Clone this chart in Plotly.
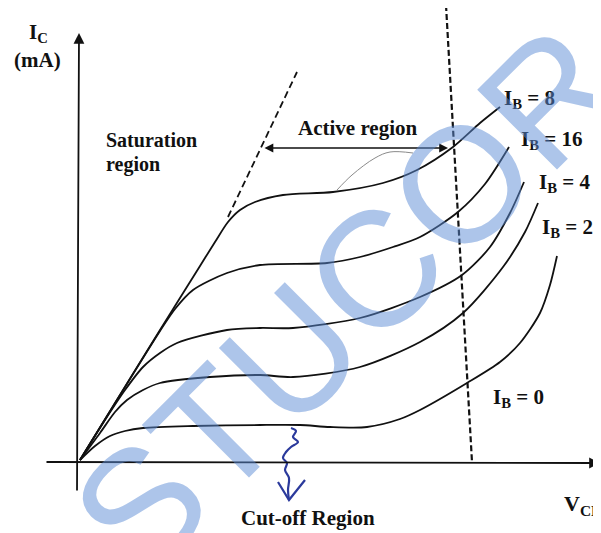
import plotly.graph_objects as go

# Output characteristics (drawing units: x to the right, y downwards)
ib8_x = [80, 120, 160, 200, 215, 228, 240, 255, 283, 333, 383, 417, 453, 480, 500]
ib8_y = [460, 395, 330, 266, 242, 222, 210, 202, 195, 192, 183, 170, 147, 123, 107]

ib16_x = [80, 120, 160, 175, 193, 227, 260, 327, 360, 393, 420, 458, 485, 509]
ib16_y = [460, 395, 331, 309, 290, 273, 265, 263, 257, 247, 237, 212, 184, 147]

ib4_x = [80, 105, 125, 143, 160, 177, 227, 260, 293, 360, 420, 462, 490, 510, 524]
ib4_y = [460, 420, 390, 367, 353, 343, 330, 328, 328, 318, 297, 275, 247, 213, 182]

ib2_x = [80, 100, 115, 127, 143, 160, 210, 260, 293, 360, 420, 463, 503, 525, 538]
ib2_y = [460, 433, 412, 400, 390, 383, 377, 375, 377, 367, 342, 313, 267, 232, 203]

ib0_x = [80, 95, 110, 125, 143, 193, 260, 300, 330, 367, 400, 420, 467, 500, 520, 540, 550, 557]
ib0_y = [460, 446, 436, 431, 428, 426, 425, 425, 427, 427, 419, 410, 383, 362, 343, 313, 285, 256]

curves = [(ib8_x, ib8_y), (ib16_x, ib16_y), (ib4_x, ib4_y), (ib2_x, ib2_y), (ib0_x, ib0_y)]

labels = ["I<sub>B</sub> = 8", "I<sub>B</sub> = 16", "I<sub>B</sub> = 4",
          "I<sub>B</sub> = 2", "I<sub>B</sub> = 0"]
label_x = [502, 519, 537, 540, 491]
label_y = [99, 140, 183, 228, 398]

# region boundaries
sat_x = [228, 297]
sat_y = [217, 72]
brk_x = [446, 472]
brk_y = [5, 462]

# hand-drawn bits
grey_x = [337, 352, 375, 390, 413]
grey_y = [190, 175, 158, 152, 153]
squig_x = [291, 296, 293, 298, 291, 286, 283, 287, 285, 289, 288, 289]
squig_y = [428, 431, 437, 442, 447, 452, 458, 463, 470, 478, 490, 500]
head_x = [278, 289, 305]
head_y = [482, 500, 480]

serif = "Liberation Serif"
ink = "#111111"

fig = go.Figure()

for cx, cy in curves:
    fig.add_trace(go.Scatter(x=cx, y=cy, mode="lines",
                             line=dict(color=ink, width=1.8, shape="spline", smoothing=0.8)))

fig.add_trace(go.Scatter(x=sat_x, y=sat_y, mode="lines",
                         line=dict(color=ink, width=1.8, dash="7px,4px")))
fig.add_trace(go.Scatter(x=brk_x, y=brk_y, mode="lines",
                         line=dict(color=ink, width=2.2, dash="6px,3px")))
fig.add_trace(go.Scatter(x=grey_x, y=grey_y, mode="lines",
                         line=dict(color="#8a8a8a", width=1, shape="spline")))
fig.add_trace(go.Scatter(x=squig_x, y=squig_y, mode="lines",
                         line=dict(color="#2b3a9c", width=2.2, shape="spline")))
fig.add_trace(go.Scatter(x=head_x, y=head_y, mode="lines",
                         line=dict(color="#2b3a9c", width=2.2)))

# axes with arrows
fig.add_annotation(x=79, y=33, ax=77, ay=492, xref="x", yref="y", axref="x", ayref="y",
                   text="", showarrow=True, arrowhead=2, arrowsize=1.2, arrowwidth=1.8,
                   arrowcolor=ink)
fig.add_annotation(x=600, y=463, ax=45, ay=462, xref="x", yref="y", axref="x", ayref="y",
                   text="", showarrow=True, arrowhead=2, arrowsize=1.2, arrowwidth=1.8,
                   arrowcolor=ink)
# active region double arrow
fig.add_annotation(x=448, y=148, ax=263, ay=148, xref="x", yref="y", axref="x", ayref="y",
                   text="", showarrow=True, arrowhead=2, arrowside="end+start",
                   arrowsize=1.1, arrowwidth=1.6, arrowcolor=ink)

texts = [
    ("I<sub>C</sub>", 27, 33, "left", 21),
    ("(mA)", 37, 60, "center", 21),
    ("Saturation", 104, 140, "left", 20),
    ("region", 104, 164, "left", 20),
    ("Active region", 357, 128, "center", 21),
    ("Cut-off Region", 308, 518, "center", 21),
    ("V<sub>CE</sub>", 562, 505, "left", 22),
]
for t, tx, ty, anc, sz in texts:
    fig.add_annotation(x=tx, y=ty, text="<b>" + t + "</b>", showarrow=False, xanchor=anc,
                       yanchor="middle", font=dict(family=serif, size=sz, color=ink))

for t, tx, ty in zip(labels, label_x, label_y):
    fig.add_annotation(x=tx, y=ty, text="<b>" + t + "</b>", showarrow=False, xanchor="left",
                       yanchor="middle", font=dict(family=serif, size=21, color=ink))

# watermark
fig.add_annotation(x=346, y=300, text="STUCOR", showarrow=False, textangle=-45,
                   font=dict(family="Liberation Sans", size=164, color="rgba(91,140,213,0.5)"))

# the page body adds an 8px margin, so the plot starts at (8, 8) in the window
fig.update_xaxes(visible=False, range=[8, 601])
fig.update_yaxes(visible=False, range=[533, 8])
fig.update_layout(width=593, height=525, margin=dict(l=0, r=0, t=0, b=0),
                  plot_bgcolor="white", paper_bgcolor="white", showlegend=False)

fig.write_html("out.html")
